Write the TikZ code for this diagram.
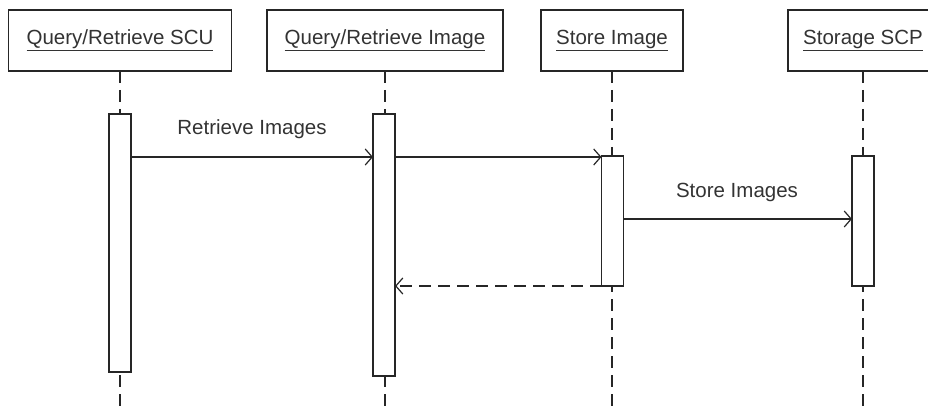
\documentclass[tikz,border=0pt]{standalone}
\usepackage{fontspec}
\setmainfont{Liberation Sans}
\usetikzlibrary{arrows.meta}
\begin{document}
\begin{tikzpicture}[x=1pt,y=-1pt,
  every node/.style={inner sep=0pt, outer sep=0pt},
  head/.style={draw=black!85, line width=1.3pt, fill=white, minimum height=61pt, font=\fontsize{20.5}{24}\selectfont, text=black!80},
  act/.style={draw=black!85, line width=1.3pt, fill=white, minimum width=22pt},
  life/.style={draw=black!85, line width=1.3pt, dash pattern=on 12pt off 7pt},
  msg/.style={draw=black!85, line width=1.3pt, -{Straight Barb[length=7pt,width=16pt,line width=1.2pt]}},
  ret/.style={msg, dash pattern=on 12pt off 7pt},
  lbl/.style={font=\fontsize{20.5}{24}\selectfont, text=black!80}]
\useasboundingbox (0,0) rectangle (928,406);
\clip (0,0) rectangle (928,406);
% lifeline bottoms
\coordinate (b1) at (120,406);
\coordinate (b2) at (385,406);
\coordinate (b3) at (612,406);
\coordinate (b4) at (863,406);
% headers
\node[head, minimum width=223pt] (h1) at (120,40.5) {\underline{Query/Retrieve SCU}};
\node[head, minimum width=236pt] (h2) at (385,40.5) {\underline{Query/Retrieve Image}};
\node[head, minimum width=142pt] (h3) at (612,40.5) {\underline{Store Image}};
\node[head, minimum width=150pt] (h4) at (863,40.5) {\underline{Storage SCP}};
% lifelines
\draw[life] (h1.south) -- (b1);
\draw[life] (h2.south) -- (b2);
\draw[life] (h3.south) -- (b3);
\draw[life] (h4.south) -- (b4);
% activations
\node[act, minimum height=258pt, anchor=north] (a1) at (120,114) {};
\node[act, minimum height=262pt, anchor=north] (a2) at (384,114) {};
\node[act, minimum height=130pt, anchor=north] (a3) at (612.5,156) {};
\node[act, minimum height=130pt, anchor=north] (a4) at (863,156) {};
% message rows
\coordinate (r1) at (0,157);
\coordinate (r2) at (0,219);
\coordinate (r3) at (0,286);
\draw[msg] (a1.east |- r1) -- (a2.west |- r1);
\draw[msg] (a2.east |- r1) -- (a3.west |- r1);
\draw[msg] (a3.east |- r2) -- (a4.west |- r2);
\draw[ret] (a3.west |- r3) -- (a2.east |- r3);
% labels
\node[lbl] (l1) at (252,129) {Retrieve Images};
\node[lbl] (l2) at (737,192) {Store Images};
\end{tikzpicture}
\end{document}
